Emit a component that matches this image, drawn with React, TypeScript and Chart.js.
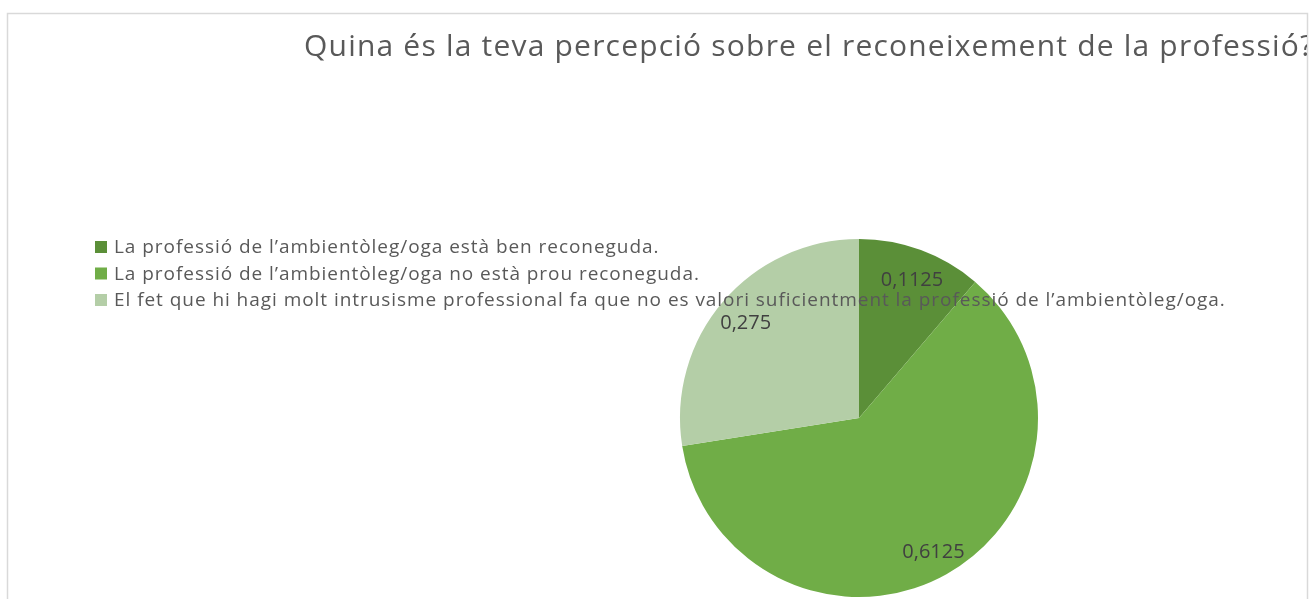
import React, { useEffect, useRef } from "react";
import { Chart, registerables } from "chart.js";

Chart.register(...registerables);

const titleText = "Quina és la teva percepció sobre el reconeixement de la professió?";
const categories = [
  "La professió de l’ambientòleg/oga està ben reconeguda.",
  "La professió de l’ambientòleg/oga no està prou reconeguda.",
  "El fet que hi hagi molt intrusisme professional fa que no es valori suficientment la professió de l’ambientòleg/oga.",
];
const values = [0.1125, 0.6125, 0.275];
const valueLabels = ["0,1125", "0,6125", "0,275"];
const colors = ["#5B8F38", "#70AD47", "#B4CEA7"];

const FONT = "'Open Sans', Lato, sans-serif";

const overlayPlugin = {
  id: "overlay",
  afterDraw(chart: any) {
    const ctx: any = chart.ctx;
    ctx.save();
    // frame
    ctx.strokeStyle = "#D9D9D9";
    ctx.lineWidth = 1.5;
    ctx.strokeRect(7.5, 13.5, 1300, 620);

    // title (clipped by frame)
    ctx.save();
    ctx.beginPath();
    ctx.rect(8, 14, 1299, 620);
    ctx.clip();
    ctx.fillStyle = "#595959";
    ctx.font = `30px ${FONT}`;
    ctx.letterSpacing = "1.2px";
    ctx.textAlign = "left";
    ctx.textBaseline = "alphabetic";
    ctx.fillText(titleText, 304, 56);
    ctx.restore();

    // legend
    const rowY = [247, 273.5, 300];
    ctx.font = `19px ${FONT}`;
    ctx.letterSpacing = "0.95px";
    ctx.textAlign = "left";
    ctx.textBaseline = "middle";
    categories.forEach((c, i) => {
      ctx.fillStyle = colors[i];
      ctx.fillRect(95, rowY[i] - 6, 12, 12);
      ctx.fillStyle = "#595959";
      ctx.fillText(c, 114, rowY[i] + 1);
    });

    // data labels
    const meta = chart.getDatasetMeta(0);
    ctx.font = `20px ${FONT}`;
    ctx.letterSpacing = "0px";
    ctx.fillStyle = "#404040";
    ctx.textAlign = "center";
    ctx.textBaseline = "middle";
    meta.data.forEach((arc: any, i: number) => {
      const p = arc.getProps(["x", "y", "startAngle", "endAngle", "outerRadius"], true);
      const mid = (p.startAngle + p.endAngle) / 2;
      const r = p.outerRadius * 0.84;
      ctx.fillText(valueLabels[i], p.x + Math.cos(mid) * r + 1, p.y + Math.sin(mid) * r + 3);
    });
    ctx.restore();
  },
};

export default function App() {
  const ref = useRef<HTMLCanvasElement | null>(null);
  useEffect(() => {
    if (!ref.current) return;
    const chart = new Chart(ref.current, {
      type: "pie",
      data: {
        labels: categories,
        datasets: [
          {
            data: values,
            backgroundColor: colors,
            borderWidth: 0,
            hoverOffset: 0,
          },
        ],
      },
      options: {
        responsive: false,
        animation: false,
        layout: { padding: { left: 680, right: 274, top: 239, bottom: 2 } },
        plugins: {
          legend: { display: false },
          title: { display: false },
          tooltip: { enabled: false },
        },
      },
      plugins: [overlayPlugin],
    });
    return () => chart.destroy();
  }, []);
  return (
    <div style={{ position: "absolute", left: 0, top: 0, width: 1312, height: 599, background: "#fff" }}>
      <canvas ref={ref} width={1312} height={599} style={{ display: "block" }} />
    </div>
  );
}
